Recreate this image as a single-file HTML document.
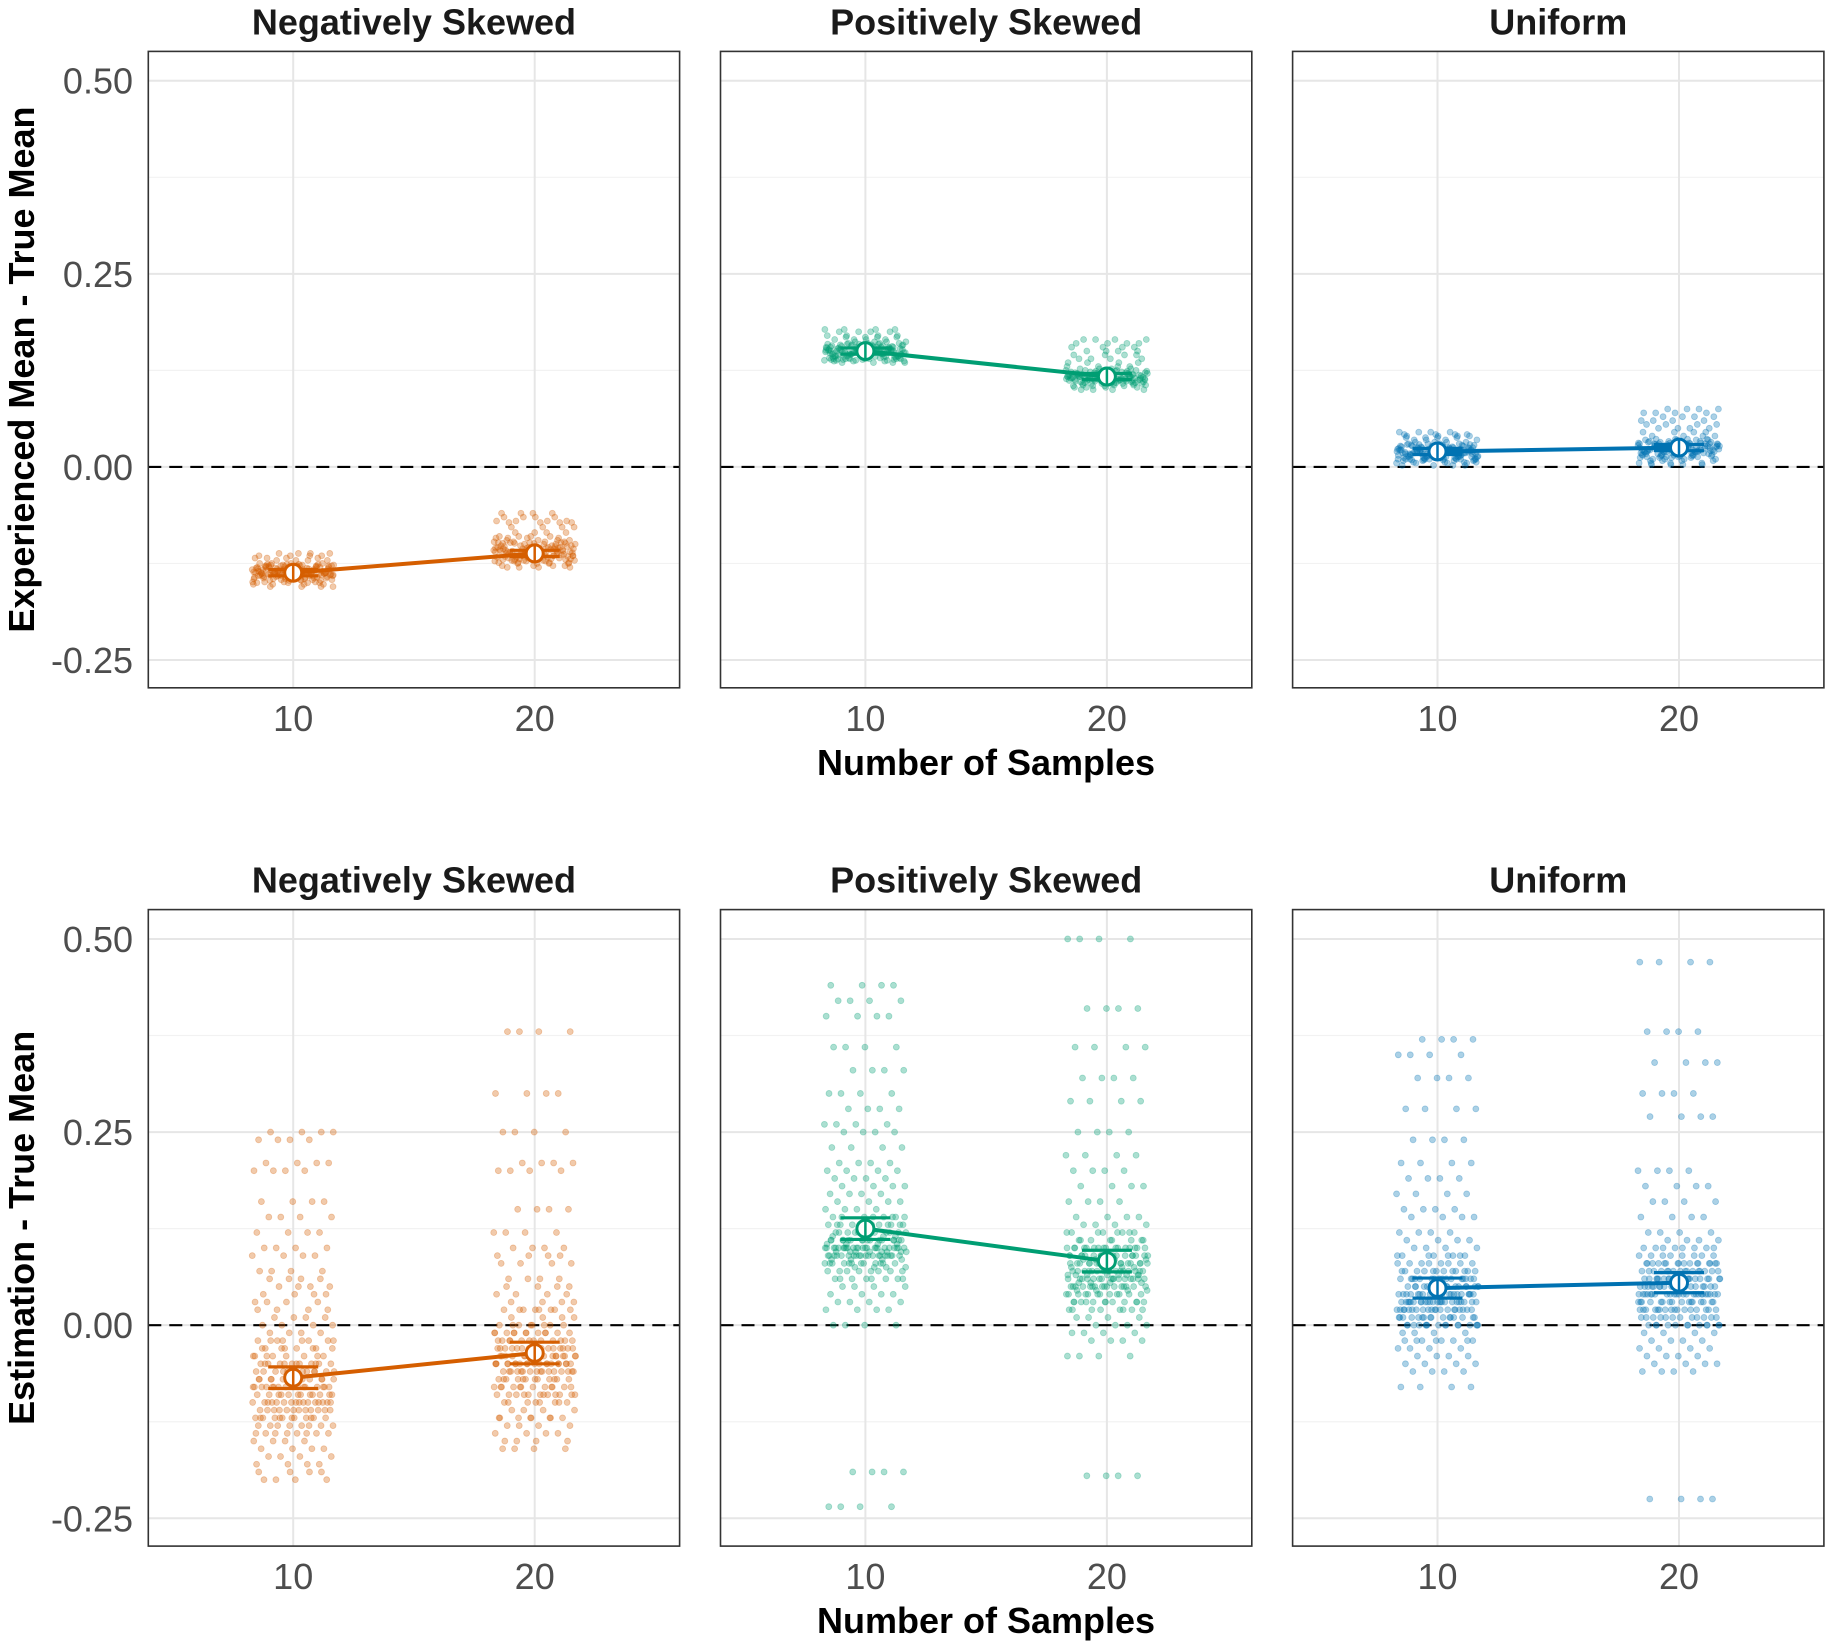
<!DOCTYPE html>
<html><head><meta charset="utf-8">
<style>
html,body{margin:0;padding:0;background:#fff;}
svg{display:block;font-family:"Liberation Sans",Arial,sans-serif;}
</style></head>
<body>
<svg id="chart" width="1831" height="1647" viewBox="0 0 1831 1647" xmlns="http://www.w3.org/2000/svg"></svg>
<script>
// ---- data ----
const panels = ["Negatively Skewed","Positively Skewed","Uniform"];
const xCategories = [10, 20];
const yTicks = [0.50, 0.25, 0.00, -0.25];
const yTickLabels = ["0.50","0.25","0.00","-0.25"];
const xTickLabels = ["10","20"];
const colors = ["#D55E00","#009E73","#0072B2"];
// top row: Experienced Mean - True Mean
const expMeans = [[-0.137,-0.112],[0.150,0.117],[0.020,0.025]];
const expCI = [[0.004,0.004],[0.004,0.004],[0.004,0.004]];
const expNeg10 = [-0.14,-0.135,-0.13,-0.145,-0.138,-0.128,-0.15,-0.142,-0.133,-0.125,-0.112,-0.118,-0.137,-0.141,-0.147,-0.132,-0.129,-0.152,-0.136,-0.139,-0.131,-0.144,-0.127,-0.115,-0.134,-0.143,-0.138,-0.146,-0.13,-0.121,-0.149,-0.135,-0.14,-0.126,-0.137,-0.133,-0.155,-0.141,-0.128,-0.136];
const expNeg20 = [-0.11,-0.105,-0.12,-0.115,-0.098,-0.125,-0.108,-0.113,-0.102,-0.118,-0.07,-0.065,-0.078,-0.09,-0.095,-0.122,-0.128,-0.111,-0.104,-0.116,-0.1,-0.109,-0.119,-0.092,-0.085,-0.106,-0.114,-0.124,-0.112,-0.097,-0.06,-0.072,-0.117,-0.103,-0.121,-0.107,-0.13,-0.11,-0.099,-0.115];
const expPos10 = [0.15,0.145,0.155,0.14,0.148,0.152,0.16,0.138,0.143,0.157,0.175,0.17,0.165,0.135,0.147,0.153,0.149,0.142,0.158,0.151,0.144,0.162,0.139,0.146,0.154,0.168,0.137,0.156,0.141,0.15,0.178,0.146,0.152,0.159,0.143,0.148,0.155,0.14,0.151,0.147];
const expPos20 = [0.117,0.112,0.122,0.108,0.115,0.12,0.125,0.105,0.11,0.118,0.16,0.165,0.155,0.14,0.13,0.103,0.114,0.119,0.113,0.121,0.109,0.116,0.127,0.135,0.111,0.106,0.123,0.118,0.114,0.145,0.1,0.112,0.119,0.124,0.115,0.108,0.117,0.15,0.113,0.12];
const expUni10 = [0.02,0.015,0.025,0.01,0.018,0.022,0.03,0.005,0.012,0.028,0.045,0.04,0.035,0.002,0.017,0.023,0.019,0.011,0.027,0.021,0.014,0.032,0.008,0.016,0.024,0.038,0.006,0.026,0.013,0.02,0.042,0.009,0.022,0.029,0.013,0.018,0.025,0.01,0.021,0.017];
const expUni20 = [0.025,0.02,0.03,0.015,0.022,0.028,0.035,0.01,0.018,0.032,0.075,0.07,0.065,0.005,0.05,0.055,0.024,0.016,0.033,0.027,0.019,0.04,0.012,0.021,0.029,0.045,0.008,0.031,0.017,0.026,0.06,0.014,0.023,0.036,0.02,0.003,0.03,0.013,0.027,0.022];
// bottom row: Estimation - True Mean
const estMeans = [[-0.068,-0.036],[0.125,0.083],[0.048,0.055]];
const estCI = [[0.014,0.014],[0.014,0.014],[0.013,0.013]];
const estNeg10 = [0.25,0.24,0.21,0.2,0.16,0.14,0.12,0.1,0.09,0.07,0.05,0.03,0.01,0,-0.01,-0.02,-0.03,-0.04,-0.05,-0.05,-0.06,-0.06,-0.07,-0.07,-0.08,-0.08,-0.08,-0.09,-0.09,-0.1,-0.1,-0.1,-0.11,-0.11,-0.12,-0.12,-0.13,-0.13,-0.14,-0.15,-0.16,-0.17,-0.18,-0.2,-0.06,-0.07,-0.09,-0.04,-0.11,-0.03,0.06,0.02,-0.05,-0.08,-0.12,-0.1,-0.14,0.04,-0.02,-0.19];
const estNeg20 = [0.38,0.3,0.25,0.21,0.2,0.15,0.12,0.1,0.08,0.06,0.04,0.02,0.01,0,-0.01,-0.01,-0.02,-0.02,-0.03,-0.03,-0.04,-0.04,-0.05,-0.05,-0.05,-0.06,-0.06,-0.07,-0.07,-0.08,-0.08,-0.09,-0.09,-0.1,-0.11,-0.12,-0.13,-0.14,-0.16,-0.03,-0.02,-0.06,-0.04,0.0,-0.08,-0.1,-0.05,-0.07,0.03,-0.12,0.05,-0.01,-0.04,-0.06,0.09,-0.15,-0.09,-0.03,0.02,-0.05];
const estPos10 = [0.44,0.42,0.4,0.36,0.33,0.3,0.28,0.26,0.25,0.23,0.21,0.2,0.19,0.18,0.17,0.16,0.15,0.14,0.13,0.13,0.12,0.12,0.11,0.11,0.1,0.1,0.1,0.09,0.09,0.09,0.08,0.08,0.07,0.07,0.06,0.05,0.04,0.03,0.02,0,-0.19,-0.235,0.11,0.095,0.1,0.085,0.12,0.105,0.09,0.14,0.08,0.13,0.1,0.115,0.06,0.09,0.1,0.075,0.11,0.095];
const estPos20 = [0.5,0.41,0.36,0.32,0.29,0.25,0.22,0.2,0.18,0.16,0.14,0.13,0.12,0.11,0.1,0.1,0.09,0.09,0.08,0.08,0.07,0.07,0.06,0.06,0.05,0.05,0.05,0.04,0.04,0.03,0.03,0.02,0.01,0,-0.01,-0.02,-0.04,-0.195,0.1,0.06,0.08,0.07,0.09,0.05,0.11,0.04,0.065,0.085,0.075,0.055,0.12,0.03,0.06,0.09,0.07,0.045,0.1,0.02,0.08,0.065];
const estUni10 = [0.37,0.35,0.32,0.28,0.24,0.21,0.19,0.17,0.15,0.14,0.12,0.11,0.1,0.09,0.08,0.08,0.07,0.07,0.06,0.06,0.05,0.05,0.04,0.04,0.04,0.03,0.03,0.03,0.02,0.02,0.02,0.01,0.01,0,0,-0.01,-0.02,-0.03,-0.04,-0.05,-0.06,-0.08,0.03,0.05,0.02,0.06,0.01,0.04,0.0,0.07,0.03,0.09,-0.02,0.05,0.02,0.04,0.0,0.06,0.01,0.03];
const estUni20 = [0.47,0.38,0.34,0.3,0.27,0.2,0.18,0.16,0.14,0.12,0.11,0.1,0.1,0.09,0.08,0.08,0.07,0.07,0.06,0.06,0.05,0.05,0.05,0.04,0.04,0.04,0.03,0.03,0.02,0.02,0.01,0.01,0,0,-0.01,-0.02,-0.03,-0.04,-0.05,-0.06,-0.225,0.06,0.04,0.08,0.03,0.05,0.07,0.02,0.09,0.04,0.06,0.01,0.05,0.03,0.07,0.0,0.06,0.04,0.02,0.08];
// each listed value occurs for this many participants (trials plotted per value)
const repeatsPerValue = 4;

const expPoints = [[expNeg10,expNeg20],[expPos10,expPos20],[expUni10,expUni20]];
const estPoints = [[estNeg10,estNeg20],[estPos10,estPos20],[estUni10,estUni20]];

// ---- layout ----
const NS = "http://www.w3.org/2000/svg";
const svg = document.getElementById('chart');
const panelX = [148.3, 720.5, 1292.6];
const panelW = 531.3;
const rows = [{top:51.4,bottom:687.8,means:expMeans,ci:expCI,pts:expPoints,title:"Experienced Mean - True Mean"},
              {top:909.6,bottom:1546.1,means:estMeans,ci:estCI,pts:estPoints,title:"Estimation - True Mean"}];
const xDom=[4,26], yDom=[-0.286,0.538];

function mk(tag, attrs, parent){
  const e=document.createElementNS(NS,tag);
  for(const k in attrs) e.setAttribute(k,attrs[k]);
  (parent||svg).appendChild(e); return e;
}
function jit(i){ const f=(i*0.6180339887+0.37)%1; return (f-0.5)*3.4; }

rows.forEach((row,ri)=>{
  const H=row.bottom-row.top;
  const ys=v=>row.bottom-(v-yDom[0])/(yDom[1]-yDom[0])*H;
  panels.forEach((pname,pi)=>{
    const L=panelX[pi];
    const xs=v=>L+(v-xDom[0])/(xDom[1]-xDom[0])*panelW;
    const g=mk('g',{});
    
    
    for(let k=0;k<yTicks.length-1;k++){
      const mv=(yTicks[k]+yTicks[k+1])/2;
      mk('line',{x1:L,x2:L+panelW,y1:ys(mv),y2:ys(mv),stroke:'#f2f2f2','stroke-width':1.2},g);
    }
    yTicks.forEach(t=>{
      const gl=mk('line',{x1:L,x2:L+panelW,y1:ys(t),y2:ys(t),stroke:'#e6e6e6','stroke-width':2},g);
      
      
    });
    xCategories.forEach(c=>{
      const gl=mk('line',{x1:xs(c),x2:xs(c),y1:row.top,y2:row.bottom,stroke:'#e6e6e6','stroke-width':2},g);
      
      
    });
    const zl=mk('line',{x1:L,x2:L+panelW,y1:ys(0),y2:ys(0),stroke:'#000','stroke-width':2.2,'stroke-dasharray':'13,8'},g);
    
    
    const col=colors[pi];
    xCategories.forEach((c,ci)=>{
      let n=0;
      row.pts[pi][ci].forEach((v)=>{
        for(let r=0;r<repeatsPerValue;r++){
          n++;
          const p=mk('circle',{cx:xs(c+jit(n+ci*7+pi*3)),cy:ys(v),r:3,fill:col,'fill-opacity':0.33,stroke:col,'stroke-opacity':0.3,'stroke-width':0.8},g);
          
          
        }
      });
    });
    const m=row.means[pi];
    const ln=mk('line',{x1:xs(xCategories[0]),y1:ys(m[0]),x2:xs(xCategories[1]),y2:ys(m[1]),stroke:col,'stroke-width':4},g);
    
    
    xCategories.forEach((c,ci)=>{
      const e=row.ci[pi][ci];
      const x=xs(c), cw=25;
      [m[ci]+e,m[ci]-e].forEach(v=>{
        const cap=mk('line',{x1:x-cw,x2:x+cw,y1:ys(v),y2:ys(v),stroke:col,'stroke-width':3.2},g);
        
        
      });
      mk('line',{x1:x,x2:x,y1:ys(m[ci]+e),y2:ys(m[ci]-e),stroke:col,'stroke-width':3.2},g);
      const mc=mk('circle',{cx:x,cy:ys(m[ci]),r:8.5,fill:'#fff',stroke:col,'stroke-width':3},g);
      
      
      mk('line',{x1:x,x2:x,y1:ys(m[ci])-8,y2:ys(m[ci])+8,stroke:col,'stroke-width':2.5},g);
    });
    const b=mk('rect',{x:L,y:row.top,width:panelW,height:H,fill:'none',stroke:'#333','stroke-width':1.6},g);
    
    
    const t=mk('text',{x:L+panelW/2,y:row.top-17,'text-anchor':'middle','font-size':36,'font-weight':'bold',fill:'#1a1a1a'},g);
    t.textContent=pname;
    
    
    xCategories.forEach((c,ci)=>{
      const tl=mk('text',{x:xs(c),y:row.bottom+43,'text-anchor':'middle','font-size':36,fill:'#4d4d4d'},g);
      tl.textContent=xTickLabels[ci];
      
      
    });
  });
  yTicks.forEach((t,k)=>{
    const tl=mk('text',{x:133,y:ys(t)+13,'text-anchor':'end','font-size':36,fill:'#4d4d4d'});
    tl.textContent=yTickLabels[k];
    
    
  });
  const yt=mk('text',{x:0,y:0,'text-anchor':'middle','font-size':36,'font-weight':'bold',fill:'#000',transform:`translate(34,${(row.top+row.bottom)/2}) rotate(-90)`});
  yt.textContent=row.title;
  
  
  const xt=mk('text',{x:986,y:row.bottom+87,'text-anchor':'middle','font-size':36,'font-weight':'bold',fill:'#000'});
  xt.textContent="Number of Samples";
  
  
});
</script>
</body></html>
